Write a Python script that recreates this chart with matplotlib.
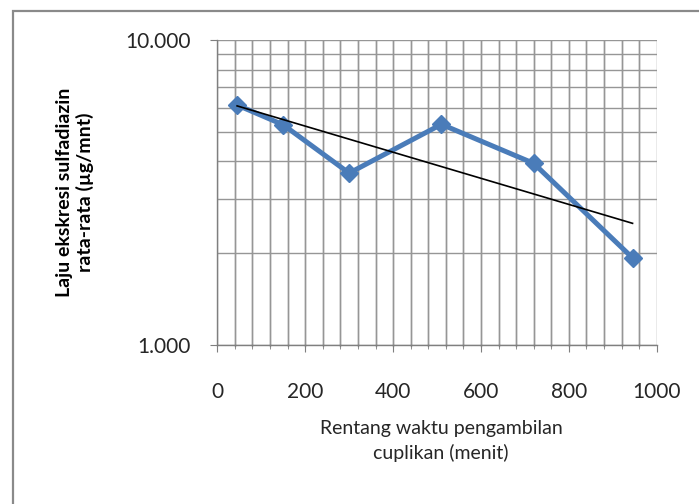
import numpy as np
import matplotlib
matplotlib.use("Agg")
import matplotlib.pyplot as plt
from matplotlib.ticker import FixedLocator, MultipleLocator, FuncFormatter, NullFormatter
from matplotlib.patches import Rectangle

# ---- data ----
waktu = [45, 150, 300, 510, 720, 945]            # menit (titik tengah interval)
laju = [6.12, 5.27, 3.66, 5.29, 3.94, 1.93]      # ug/mnt

X_LABEL = "Rentang waktu pengambilan\ncuplikan (menit)"
Y_LABEL = "Laju ekskresi sulfadiazin\nrata-rata (\u00b5g/mnt)"

LINE_COLOR = "#4a7cb9"
GRID_COLOR = "#969696"
TEXT_COLOR = "#262626"
X_MINOR_STEP = 40

plt.rcParams["font.family"] = ["Lato", "DejaVu Sans"]

fig = plt.figure(figsize=(6.99, 5.04), dpi=100)
fig.patch.set_facecolor("white")

# chart-area border (only left/top edges visible in the crop)
fig.add_artist(Rectangle((13 / 699, -0.2), 1.2, 1 - 11 / 504 + 0.2,
                         transform=fig.transFigure, fill=False,
                         edgecolor="#8a8a8a", linewidth=1.6, zorder=-1))

ax = fig.add_axes([0.3109, 0.3155, 0.6286, 0.6052])
ax.set_yscale("log")
ax.set_xlim(0, 1000)
ax.set_ylim(1, 10)

# grid: x every 40 (major 200), y log minor 2..9
ax.xaxis.set_major_locator(MultipleLocator(200))
ax.xaxis.set_minor_locator(MultipleLocator(X_MINOR_STEP))
ax.yaxis.set_major_locator(FixedLocator([1, 10]))
ax.yaxis.set_minor_locator(FixedLocator(np.arange(2, 10)))
ax.yaxis.set_major_formatter(FuncFormatter(lambda v, p: f"{v:.3f}"))
ax.yaxis.set_minor_formatter(NullFormatter())
ax.xaxis.set_major_formatter(FuncFormatter(lambda v, p: f"{v:.0f}"))

for s in ["top", "right"]:
    ax.spines[s].set_visible(False)
for s in ["left", "bottom"]:
    ax.spines[s].set_color("#7f7f7f")
    ax.spines[s].set_linewidth(1.0)

ax.tick_params(axis="both", which="major", length=5, color="#7f7f7f",
               labelsize=15, labelcolor=TEXT_COLOR)
ax.tick_params(axis="x", which="major", pad=22)
ax.tick_params(axis="y", which="major", pad=14)
ax.tick_params(axis="x", which="minor", length=3, color="#7f7f7f")
ax.tick_params(axis="y", which="minor", length=0)

ax.xaxis.grid(True, which="both", color=GRID_COLOR, linewidth=1.0)
ax.yaxis.grid(True, which="both", color=GRID_COLOR, linewidth=1.0)
ax.set_axisbelow(True)

# vertical minor grid drawn explicitly as well
for gx in np.arange(X_MINOR_STEP, 1000, X_MINOR_STEP):
    ax.axvline(gx, color=GRID_COLOR, linewidth=1.0, zorder=0.6)
    ax.plot([gx, gx], [0.99, 1.0], color="#7f7f7f", linewidth=1.0,
            clip_on=False, zorder=0.6)

# data series
ax.plot(waktu, laju, color=LINE_COLOR, linewidth=3.6, marker="D",
        markersize=8.7, markerfacecolor=LINE_COLOR, markeredgecolor=LINE_COLOR,
        zorder=3)

# exponential trendline (fit of log10(y) on x, like Excel)
k, c = np.polyfit(waktu, np.log10(laju), 1)
xt = np.array([waktu[0], waktu[-1]])
ax.plot(xt, 10 ** (k * xt + c), color="black", linewidth=1.2, zorder=4)

ax.set_xlim(0, 1000)
ax.set_ylim(1, 10)

fig.text(441 / 699, 1 - 441 / 504, X_LABEL, ha="center", va="center",
         fontsize=14, linespacing=1.4, color=TEXT_COLOR)
fig.text(75 / 699, 1 - 192 / 504, Y_LABEL, ha="center", va="center",
         rotation=90, fontsize=14, fontweight="bold", linespacing=1.25,
         color="black")

fig.savefig("out.png", dpi=100)
